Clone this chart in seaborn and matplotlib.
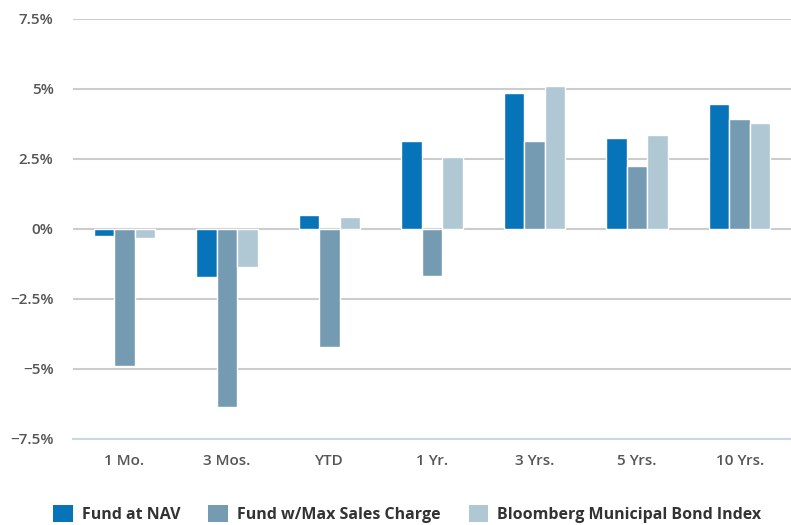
import matplotlib
matplotlib.use("Agg")
import matplotlib.pyplot as plt
import seaborn as sns
import pandas as pd
import numpy as np
from matplotlib.patches import Patch

categories = ["1 Mo.", "3 Mos.", "YTD", "1 Yr.", "3 Yrs.", "5 Yrs.", "10 Yrs."]
series_names = ["Fund at NAV", "Fund w/Max Sales Charge", "Bloomberg Municipal Bond Index"]
fund_nav = [-0.24, -1.70, 0.49, 3.15, 4.86, 3.24, 4.46]
fund_max = [-4.88, -6.37, -4.22, -1.69, 3.15, 2.26, 3.94]
bond_index = [-0.31, -1.37, 0.44, 2.57, 5.12, 3.37, 3.79]
y_ticks = [-7.5, -5, -2.5, 0, 2.5, 5, 7.5]
y_labels = ["\u22127.5%", "\u22125%", "\u22122.5%", "0%", "2.5%", "5%", "7.5%"]
colors = ["#0773b9", "#749bb1", "#b0c7d4"]

rows = []
for name, vals in zip(series_names, [fund_nav, fund_max, bond_index]):
    for c, v in zip(categories, vals):
        rows.append({"category": c, "series": name, "value": v})
df = pd.DataFrame(rows)

sns.set_style("white")
plt.rcParams["font.family"] = ["Open Sans", "DejaVu Sans"]

W, H = 791, 525
fig = plt.figure(figsize=(W / 100, H / 100), dpi=100)
ax = fig.add_axes([73 / W, 86 / H, (W - 73) / W, 420 / H])

sns.barplot(data=df, x="category", y="value", hue="series", order=categories,
            hue_order=series_names, palette=colors, width=0.6, saturation=1,
            edgecolor="white", linewidth=1, ax=ax, legend=False)

ax.set_ylim(-7.5, 7.5)
ax.set_xlim(-0.5, -0.5 + (W - 73) / 103.3)
ax.set_yticks(y_ticks)
ax.set_yticklabels(y_labels)
ax.set_axisbelow(True)
ax.yaxis.grid(True, color="#cccccc", linewidth=1.5)
for s in ["top", "right", "left"]:
    ax.spines[s].set_visible(False)
ax.spines["bottom"].set_color("#c9d8e6")
ax.spines["bottom"].set_linewidth(1.5)
ax.spines["bottom"].set_zorder(5)
ax.set_xlabel("")
ax.set_ylabel("")
ax.tick_params(axis="y", length=0, pad=14, labelsize=11, labelcolor="#555555")
ax.tick_params(axis="x", which="major", length=0, pad=11, labelsize=11, labelcolor="#555555")
ax.set_xticks(np.arange(-0.5, len(categories) + 0.5, 1.0), minor=True)
ax.tick_params(axis="x", which="minor", length=9.5, width=1.5, color="#c9d8e6")
for lab in ax.get_xticklabels() + ax.get_yticklabels():
    lab.set_fontweight("semibold")

handles = [Patch(facecolor=c, edgecolor="none") for c in colors]
fig.legend(handles, series_names, loc="upper left", bbox_to_anchor=(53 / W, 20 / H),
           ncol=3, frameon=False, borderpad=0, borderaxespad=0,
           handlelength=1.25, handleheight=1.25, handletextpad=0.55, columnspacing=1.75,
           prop={"size": 11.5, "weight": "bold"}, labelcolor="#333333")

fig.savefig("out.png", dpi=100)
